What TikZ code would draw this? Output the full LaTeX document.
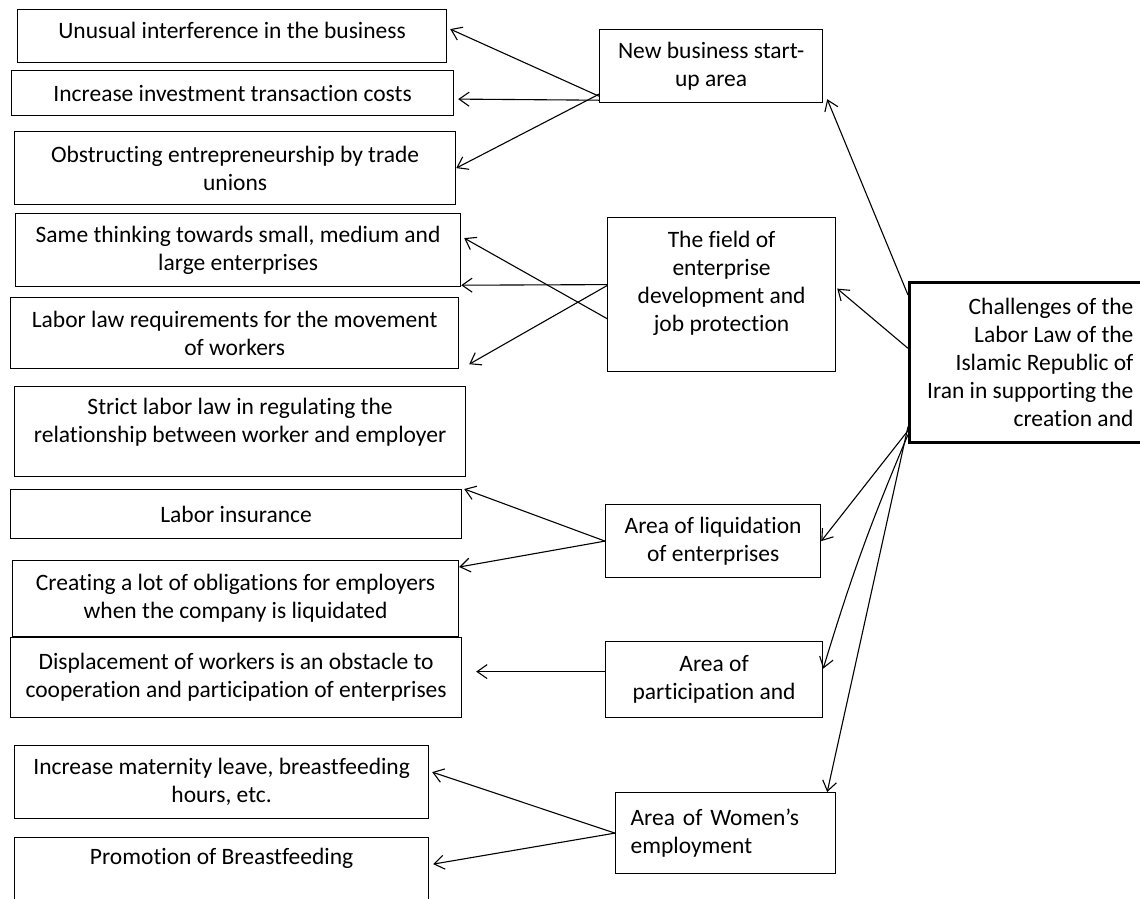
\documentclass[tikz,border=0pt]{standalone}
\usepackage{fontspec}
\setmainfont[Ligatures=NoCommon]{Carlito}
\usepackage{tikz}
\usetikzlibrary{arrows.meta,positioning,calc}
\newcommand{\cellfont}{\fontsize{23.5pt}{28pt}\selectfont}
\tikzset{
	box/.style={draw, line width=1.2pt, align=center, inner sep=0pt,
		anchor=north west, font=\cellfont},
	arrow/.style={-{Straight Barb[length=10pt,width=14pt]}, line width=1.1pt},
}

\begin{document}
\begin{tikzpicture}[x=1pt, y=-1pt,
			areabox/.style={box, minimum height=73pt},
			rootbox/.style={box, line width=2.6pt, align=right},
			]
			\useasboundingbox[fill=white] (0,0) rectangle (1140,898);
			
			%% -- Left column: single challenges
			\node[box, minimum width=429pt, minimum height=53pt] (l1) at (17,9)
			{Unusual interference in the business\\[-24pt]\strut};
			\node[box, minimum width=442pt, minimum height=45pt] (l2) at (11,70)
			{Increase investment transaction costs};
			\node[box, minimum width=441pt, minimum height=73pt] (l3) at (14,131)
			{Obstructing entrepreneurship by trade\\unions};
			\node[box, minimum width=445pt, minimum height=73pt] (l4) at (15,213)
			{Same thinking towards small, medium and\\large enterprises};
			\node[box, minimum width=448pt, minimum height=71pt] (l5) at (10,297)
			{Labor law requirements for the movement\\of workers};
			\node[box, minimum width=451pt, minimum height=90pt] (l6) at (14,386)
			{Strict labor law in regulating the\\relationship between worker and employer\\[-14pt]\strut};
			\node[box, minimum width=451pt, minimum height=49pt] (l7) at (10,489)
			{Labor insurance};
			\node[box, minimum width=446pt, minimum height=76pt] (l8) at (12,560)
			{Creating a lot of obligations for employers\\when the company is liquidated};
			\node[box, minimum width=451pt, minimum height=80pt] (l9) at (10,637)
			{Displacement of workers is an obstacle to\\cooperation and participation of enterprises};
			\node[box, minimum width=414pt, minimum height=73pt] (l10) at (14,745)
			{Increase maternity leave, breastfeeding\\hours, etc.};
			\node[box, minimum width=414pt, minimum height=73pt] (l11) at (14,837)
			{Promotion of Breastfeeding\\\strut};
			
			%% -- Middle column: areas
			\node[areabox, minimum width=223pt] (m1) at (599,29)
			{New business start-\\up area};
			\node[areabox, minimum width=228pt, minimum height=154pt] (m2) at (607,217)
			{The field of\\enterprise\\development and\\job protection\\[-10pt]\strut};
			\node[areabox, minimum width=215pt] (m3) at (605,504)
			{Area of liquidation\\of enterprises};
			\node[areabox, minimum width=217pt, minimum height=76pt] (m4) at (605,641)
			{Area of\\participation and};
			\node[areabox, minimum width=220pt, minimum height=81pt,
			align=left, text width=190pt] (m5) at (615,792)
			{Area of Women’s\\employment};
			
			%% -- Right: main challenge
			\node[rootbox, minimum width=242pt, minimum height=160pt] (root) at (908,281)
			{Challenges of the\\Labor Law of the\\Islamic Republic of\\Iran in supporting the\\creation and};
			
			%% -- Root to areas
			\draw[arrow] ([yshift=-14pt]root.north west) -- ([xshift=4pt,yshift=4pt]m1.south east);
			\draw[arrow] ([yshift=14pt]root.west) -- ([xshift=1pt,yshift=6pt]m2.east);
			\draw[arrow] ([yshift=13pt]root.south west) -- (m3.east);
			\draw[arrow] ([yshift=9pt]root.south west) to[bend right=3] ([yshift=11pt]m4.east);
			\draw[arrow] ([yshift=17pt]root.south west) -- ([xshift=-9pt]m5.north east);
			
			%% -- Start-up area
			\draw[arrow] ([yshift=7pt]m1.south west) -- ([xshift=3pt,yshift=7pt]l1.east);
			\draw[arrow] ([yshift=3pt]m1.south west) -- ([xshift=4pt,yshift=-6pt]l2.east);
			\draw[arrow] ([yshift=9pt]m1.south west) -- (l3.east);
			
			%% -- Enterprise development
			\draw[arrow] ([yshift=-24pt]m2.west) -- ([xshift=3pt,yshift=12pt]l4.east);
			\draw[arrow] ([yshift=10pt]m2.west) -- ([yshift=2pt]l4.south east);
			\draw[arrow] ([yshift=9pt]m2.west) -- ([xshift=10pt,yshift=5pt]l5.south east);
			
			%% -- Liquidation and participation
			\draw[arrow] (m3.west) -- ([xshift=2pt]l7.north east);
			\draw[arrow] (m3.west) -- ([yshift=-7pt]l8.north east);
			\draw[arrow] ([yshift=8pt]m4.west) -- ([xshift=14pt,yshift=6pt]l9.east);
			
			%% -- Women's employment
			\draw[arrow] (m5.west) -- ([xshift=3pt,yshift=10pt]l10.east);
			\draw[arrow] (m5.west) -- ([xshift=4pt,yshift=10pt]l11.east);
			
		\end{tikzpicture}
\end{document}
